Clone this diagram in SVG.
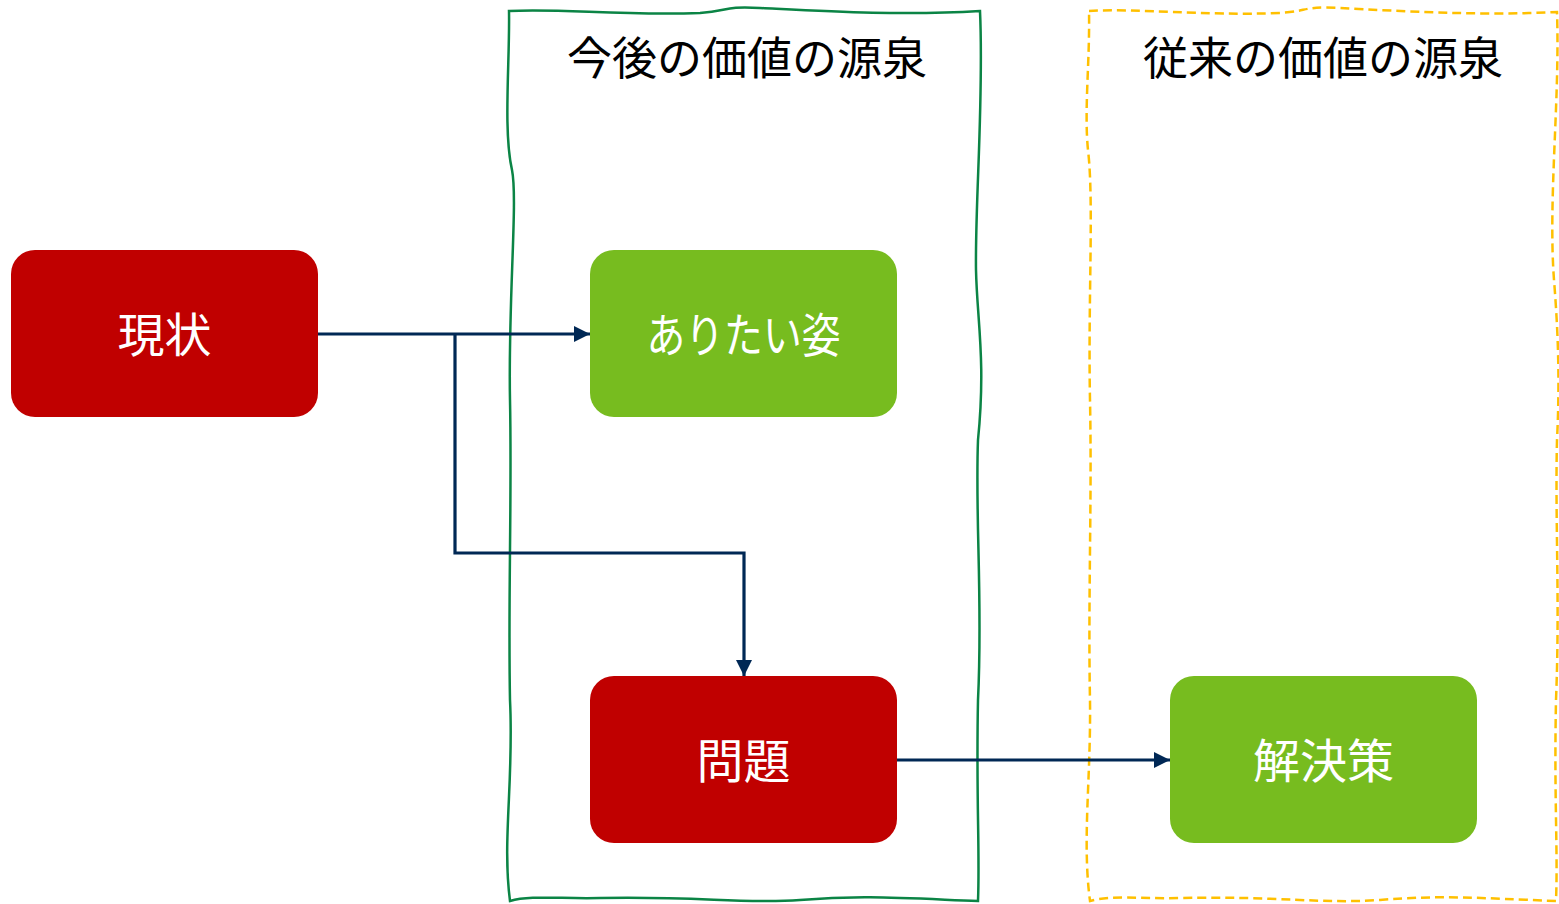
<svg xmlns="http://www.w3.org/2000/svg" width="1559" height="904" viewBox="0 0 1559 904">
<defs>
<style>
.frame-g{fill:none;stroke:#0B8445;stroke-width:2.5}
.frame-y{fill:none;stroke:#FFC000;stroke-width:2.5;stroke-dasharray:9 5}
.title{font-family:"Noto Sans CJK JP","Noto Sans",sans-serif;font-size:45px;fill:#000;text-anchor:middle;dominant-baseline:central}
.red{fill:#C00000}
.green{fill:#77BC1F}
.lbl{font-family:"Noto Sans CJK JP","Noto Sans",sans-serif;font-size:47px;fill:#fff;text-anchor:middle;dominant-baseline:central}
.conn{fill:none;stroke:#002855;stroke-width:3.2}
</style>
<marker id="arr" viewBox="0 0 10 10" refX="10" refY="5" markerWidth="5" markerHeight="5" markerUnits="strokeWidth" orient="auto">
<path d="M0,0 L10,5 L0,10 Z" fill="#002855"/>
</marker>
</defs>
<g id="frame-future">
<path class="frame-g" d="M509,11 C560,8 620,16 700,13 C730,11 722,6 760,8 C820,11 900,16 980,11 C984,100 975,200 976,270 C977,320 986,360 978,440 C975,520 983,600 978,700 C976,800 980,850 978,901 C900,898 860,895 800,900 C740,904 700,896 600,898 C560,899 530,895 510,901 C502,840 514,780 510,700 C508,600 512,500 510,400 C508,300 518,200 512,170 C503,130 510,60 509,11 Z"/>
<text class="title" x="747" y="55">今後の価値の源泉</text>
</g>
<g id="frame-past">
<path class="frame-y" d="M1089,11 C1140,8 1200,16 1280,13 C1310,11 1302,6 1340,8 C1400,11 1480,16 1557,12 C1560,100 1548,200 1554,280 C1558,330 1560,380 1557,440 C1555,520 1560,600 1556,700 C1554,800 1558,850 1556,901 C1480,898 1440,895 1380,900 C1320,904 1280,896 1180,898 C1140,899 1110,895 1090,901 C1082,840 1091,780 1090,700 C1088,600 1092,500 1090,400 C1088,300 1094,200 1088,150 C1084,110 1090,60 1089,11 Z"/>
<text class="title" x="1323" y="55">従来の価値の源泉</text>
</g>
<g id="connectors">
<path class="conn" d="M318,334 H590" marker-end="url(#arr)"/>
<path class="conn" d="M455,334 V553 H744 V676" marker-end="url(#arr)"/>
<path class="conn" d="M897,760 H1170" marker-end="url(#arr)"/>
</g>
<g id="node-genjo">
<rect class="red" x="11" y="250" width="307" height="167" rx="24"/>
<text class="lbl" x="164.5" y="331">現状</text>
</g>
<g id="node-aritai">
<rect class="green" x="590" y="250" width="307" height="167" rx="24"/>
<text class="lbl" x="743.5" y="331" textLength="194" lengthAdjust="spacingAndGlyphs">ありたい姿</text>
</g>
<g id="node-mondai">
<rect class="red" x="590" y="676" width="307" height="167" rx="24"/>
<text class="lbl" x="743.5" y="757">問題</text>
</g>
<g id="node-kaiketsu">
<rect class="green" x="1170" y="676" width="307" height="167" rx="24"/>
<text class="lbl" x="1323.5" y="757">解決策</text>
</g>
</svg>
